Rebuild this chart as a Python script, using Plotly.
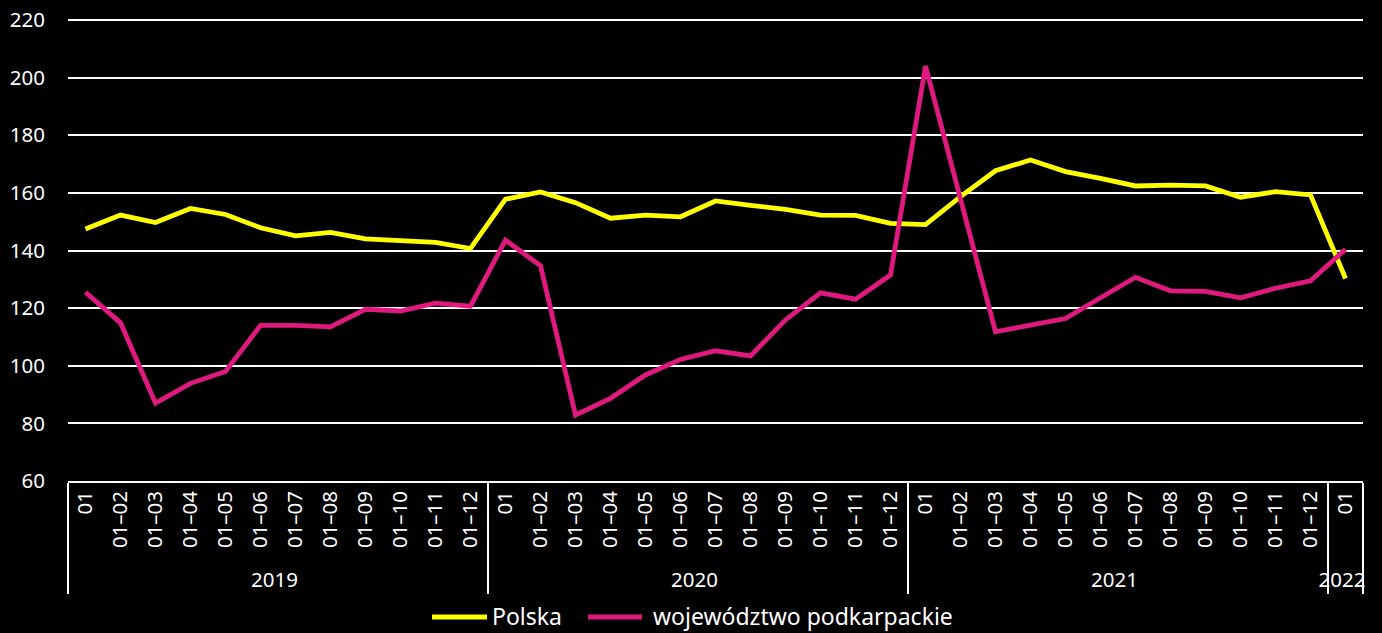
import plotly.graph_objects as go

periods_year = ["01", "01–02", "01–03", "01–04", "01–05", "01–06",
                "01–07", "01–08", "01–09", "01–10", "01–11", "01–12"]
years = ["2019"] * 12 + ["2020"] * 12 + ["2021"] * 12 + ["2022"]
periods = periods_year * 3 + ["01"]

series_names = ["Polska", "województwo podkarpackie"]
series_colors = ["#FFFF00", "#E0197F"]

polska = [147.5, 152.3, 149.7, 154.6, 152.5, 147.9, 145.1, 146.3, 144.0, 143.3, 142.8, 140.7,
          157.8, 160.3, 156.6, 151.2, 152.3, 151.7, 157.2, 155.7, 154.3, 152.3, 152.2, 149.4,
          149.0, 158.7, 167.7, 171.4, 167.4, 165.0, 162.4, 162.7, 162.4, 158.5, 160.4, 159.3,
          130.3]
podkarpackie = [125.5, 114.9, 87.0, 93.9, 98.0, 114.0, 114.0, 113.5, 119.6, 119.0, 121.7, 120.7,
                143.6, 134.7, 82.9, 88.7, 96.8, 102.2, 105.2, 103.4, 115.9, 125.3, 123.1, 131.5,
                204.0, 158.0, 111.8, 114.1, 116.4, 123.6, 130.7, 126.0, 125.8, 123.6, 126.9, 129.5,
                140.4]

FONT = "Noto Sans, Open Sans, sans-serif"

# pixel geometry of the plot area
W, H = 1382, 633
L, R, T, B = 68, 1363, 19, 481


def px_x(px):
    return (px - L) / (R - L)


def px_y(py):
    return (B - py) / (B - T)


fig = go.Figure()
for name, vals, col in zip(series_names, [polska, podkarpackie], series_colors):
    fig.add_trace(go.Scatter(x=[years, periods], y=vals, mode="lines", name=name,
                             line=dict(color=col, width=4.8), showlegend=False))

# manual legend (to match the long legend swatches)
legend_items = [(432, 487, 492), (588, 642, 653)]
for (x0, x1, tx), name, col in zip(legend_items, series_names, series_colors):
    fig.add_shape(type="line", xref="paper", yref="paper",
                  x0=px_x(x0), x1=px_x(x1), y0=px_y(617), y1=px_y(617),
                  line=dict(color=col, width=5))
    fig.add_annotation(xref="paper", yref="paper", x=px_x(tx - 2), y=px_y(616),
                       xanchor="left", yanchor="middle", text=name, showarrow=False,
                       font=dict(family=FONT, size=23, color="white"))

n = len(periods)
fig.update_layout(
    width=W, height=H,
    paper_bgcolor="black", plot_bgcolor="black",
    font=dict(family=FONT, color="white", size=20),
    margin=dict(l=L, r=W - R, t=T, b=H - B, autoexpand=False),
    showlegend=False,
    xaxis=dict(type="multicategory", range=[-0.5, n - 0.5], showgrid=False, showline=True,
               linecolor="white", linewidth=1.5, tickangle=-90, showdividers=True,
               dividercolor="white", dividerwidth=1.5, ticks="",
               tickfont=dict(family=FONT, size=20.5, color="white"), automargin=False),
    yaxis=dict(range=[60, 220.35], tickvals=[60, 80, 100, 120, 140, 160, 180, 200, 220],
               showgrid=True, gridcolor="white", gridwidth=1.8,
               zeroline=False, showline=False, ticks="", ticklabelstandoff=22,
               tickfont=dict(family=FONT, size=20.5, color="white"), automargin=False),
)

fig.write_html("out.html", config={"displayModeBar": False},
               post_script="document.body.style.margin='0';")
